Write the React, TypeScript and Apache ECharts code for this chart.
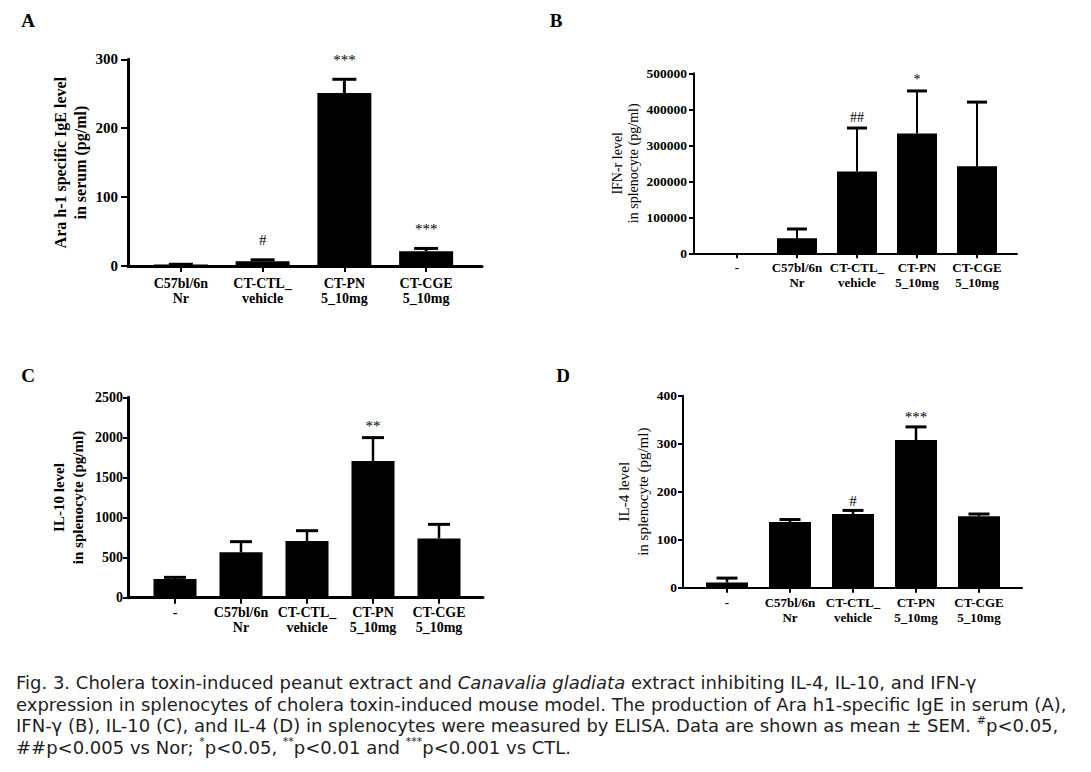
import React, { useEffect, useRef } from 'react';
import * as echarts from 'echarts';

// ---------- data ----------
const groupsA = ['C57bl/6n\nNr', 'CT-CTL_\nvehicle', 'CT-PN\n5_10mg', 'CT-CGE\n5_10mg'];
const groupsBCD = ['-', 'C57bl/6n\nNr', 'CT-CTL_\nvehicle', 'CT-PN\n5_10mg', 'CT-CGE\n5_10mg'];

// A: Ara h-1 specific IgE in serum (pg/ml)
const igeMean = [2, 7, 251, 21.5];
const igeUpper = [2.5, 9, 271, 25.5];
const igeMarks = ['', '#', '***', '***'];
const igeTicks = [0, 100, 200, 300];

// B: IFN-r in splenocyte (pg/ml)
const ifnMean = [0, 42000, 227000, 333000, 242000];
const ifnUpper = [null, 67500, 348000, 451000, 420000];
const ifnMarks = ['', '', '##', '*', ''];
const ifnTicks = [0, 100000, 200000, 300000, 400000, 500000];

// C: IL-10 in splenocyte (pg/ml)
const il10Mean = [233, 566, 707, 1705, 740];
const il10Upper = [254, 699, 836, 1997, 915];
const il10Marks = ['', '', '', '**', ''];
const il10Ticks = [0, 500, 1000, 1500, 2000, 2500];

// D: IL-4 in splenocyte (pg/ml)
const il4Mean = [11, 137, 153.5, 307.5, 149];
const il4Upper = [20, 142, 161, 335, 153.5];
const il4Marks = ['', '', '#', '***', ''];
const il4Ticks = [0, 100, 200, 300, 400];

const captionLines = [
  'Fig. 3. Cholera toxin-induced peanut extract and {i|Canavalia gladiata} extract inhibiting IL-4, IL-10, and IFN-γ',
  'expression in splenocytes of cholera toxin-induced mouse model. The production of Ara h1-specific IgE in serum (A),',
  'IFN-γ (B), IL-10 (C), and IL-4 (D) in splenocytes were measured by ELISA. Data are shown as mean ± SEM. {s|#}p<0.05,',
  '##p<0.005 vs Nor; {s|*}p<0.05, {s|**}p<0.01 and {s|***}p<0.001 vs CTL.',
];

const SERIF = '"Liberation Serif", "Times New Roman", serif';
const SANS = '"DejaVu Sans", "Liberation Sans", sans-serif';

type PanelCfg = {
  letter: string;
  letterPos: [number, number];
  frame: [number, number, number, number];
  bars: [number, number];
  cats: string[];
  mean: number[];
  upper: (number | null)[];
  marks: string[];
  ticks: number[];
  name: string;
  nameBold: boolean;
  nameSize: number;
  nameLH: number;
  nameGap: number;
  xLabelSize: number;
  yLabelSize: number;
  xLabelLH: number;
  xMargin: number;
  yMargin: number;
  axisW: number;
  yTick: number;
  xTick: number;
  barWidth: number;
  capHalf: number;
  vW: number;
  cW: number;
  gap: number;
  markSize: number;
};

const panels: PanelCfg[] = [
  {
    letter: 'A', letterPos: [28, 20],
    frame: [128, 59.3, 354, 206.7], bars: [140, 327],
    cats: groupsA, mean: igeMean, upper: igeUpper, marks: igeMarks, ticks: igeTicks,
    name: 'Ara h-1 specific IgE level\nin serum (pg/ml)', nameBold: true, nameSize: 16, nameLH: 20, nameGap: 38,
    xLabelSize: 14, yLabelSize: 15, xLabelLH: 15, xMargin: 10, yMargin: 10, axisW: 3, yTick: 7, xTick: 6,
    barWidth: 54, capHalf: 12, vW: 3, cW: 3, gap: 12, markSize: 15,
  },
  {
    letter: 'B', letterPos: [556, 20],
    frame: [694, 73.3, 323, 180], bars: [707, 300],
    cats: groupsBCD, mean: ifnMean, upper: ifnUpper, marks: ifnMarks, ticks: ifnTicks,
    name: 'IFN-r level\nin splenocyte (pg/ml)', nameBold: false, nameSize: 14, nameLH: 16, nameGap: 53,
    xLabelSize: 13, yLabelSize: 13.5, xLabelLH: 14.5, xMargin: 7, yMargin: 7, axisW: 2, yTick: 5, xTick: 5,
    barWidth: 40, capHalf: 10, vW: 2, cW: 3, gap: 4, markSize: 14,
  },
  {
    letter: 'C', letterPos: [28, 375],
    frame: [128, 397.3, 355, 200.4], bars: [142, 330],
    cats: groupsBCD, mean: il10Mean, upper: il10Upper, marks: il10Marks, ticks: il10Ticks,
    name: 'IL-10 level\nin splenocyte (pg/ml)', nameBold: true, nameSize: 15, nameLH: 19, nameGap: 41,
    xLabelSize: 14, yLabelSize: 14, xLabelLH: 15.5, xMargin: 7, yMargin: 5, axisW: 3, yTick: 5, xTick: 6,
    barWidth: 43, capHalf: 11, vW: 2.5, cW: 3, gap: 4, markSize: 15,
  },
  {
    letter: 'D', letterPos: [563, 375],
    frame: [683, 395.7, 339, 192], bars: [695.5, 315],
    cats: groupsBCD, mean: il4Mean, upper: il4Upper, marks: il4Marks, ticks: il4Ticks,
    name: 'IL-4 level\nin splenocyte (pg/ml)', nameBold: false, nameSize: 15, nameLH: 19, nameGap: 31,
    xLabelSize: 13, yLabelSize: 13.5, xLabelLH: 15, xMargin: 7.5, yMargin: 6, axisW: 2, yTick: 5, xTick: 5,
    barWidth: 42, capHalf: 10.5, vW: 2.5, cW: 3, gap: 2, markSize: 15,
  },
];

function buildOption() {
  const grid: any[] = [];
  const xAxis: any[] = [];
  const yAxis: any[] = [];
  const series: any[] = [];
  const graphic: any[] = [];

  panels.forEach((p, k) => {
    const f = 2 * k;
    const b = 2 * k + 1;
    const min = p.ticks[0];
    const max = p.ticks[p.ticks.length - 1];
    const interval = p.ticks[1] - p.ticks[0];
    grid.push({ left: p.frame[0], top: p.frame[1], width: p.frame[2], height: p.frame[3], containLabel: false });
    grid.push({ left: p.bars[0], top: p.frame[1], width: p.bars[1], height: p.frame[3], containLabel: false });

    xAxis.push({
      gridIndex: f, type: 'category', data: [''],
      axisLine: { show: true, lineStyle: { color: '#000', width: p.axisW } },
      axisTick: { show: false }, axisLabel: { show: false }, splitLine: { show: false },
    });
    xAxis.push({
      gridIndex: b, type: 'category', data: p.cats,
      axisLine: { show: false },
      axisTick: { show: true, alignWithLabel: true, length: p.xTick, lineStyle: { color: '#000', width: 2 } },
      axisLabel: {
        show: true, interval: 0, margin: p.xMargin, color: '#000',
        fontFamily: SERIF, fontWeight: 'bold', fontSize: p.xLabelSize, lineHeight: p.xLabelLH,
      },
      splitLine: { show: false },
    });
    yAxis.push({
      gridIndex: f, type: 'value', min, max, interval,
      axisLine: { show: true, lineStyle: { color: '#000', width: p.axisW } },
      axisTick: { show: true, length: p.yTick, lineStyle: { color: '#000', width: 2 } },
      axisLabel: {
        show: true, margin: p.yMargin, color: '#000',
        fontFamily: SERIF, fontWeight: 'bold', fontSize: p.yLabelSize,
        formatter: (v: number) => String(v),
      },
      splitLine: { show: false },
      name: p.name, nameLocation: 'middle', nameGap: p.nameGap, nameRotate: 90,
      nameTextStyle: {
        color: '#000', fontFamily: SERIF, fontWeight: p.nameBold ? 'bold' : 'normal',
        fontSize: p.nameSize, lineHeight: p.nameLH, align: 'center',
      },
    });
    yAxis.push({ gridIndex: b, type: 'value', min, max, interval, show: false });

    series.push({
      type: 'bar', xAxisIndex: b, yAxisIndex: b, data: p.mean,
      barWidth: p.barWidth, itemStyle: { color: '#000' }, silent: true,
    });

    const errData = p.cats
      .map((_, i) => [i, p.mean[i], p.upper[i]])
      .filter((d) => d[2] != null);
    const marks = p.marks;
    series.push({
      type: 'custom', xAxisIndex: b, yAxisIndex: b, z: 5, silent: true,
      encode: { x: 0, y: [1, 2] },
      data: errData,
      renderItem: (params: any, api: any) => {
        const i = api.value(0);
        const base = api.coord([i, api.value(1)]);
        const top = api.coord([i, api.value(2)]);
        const children: any[] = [
          { type: 'line', shape: { x1: top[0], y1: base[1], x2: top[0], y2: top[1] }, style: { stroke: '#000', lineWidth: p.vW } },
          { type: 'line', shape: { x1: top[0] - p.capHalf, y1: top[1], x2: top[0] + p.capHalf, y2: top[1] }, style: { stroke: '#000', lineWidth: p.cW } },
        ];
        const m = marks[i];
        if (m) {
          children.push({
            type: 'text', x: top[0], y: top[1] - p.gap,
            style: { text: m, align: 'center', verticalAlign: 'bottom', fontFamily: SERIF, fontSize: p.markSize, fill: '#000' },
          });
        }
        return { type: 'group', children };
      },
    });

    graphic.push({
      type: 'text', x: p.letterPos[0], y: p.letterPos[1],
      style: { text: p.letter, align: 'center', verticalAlign: 'middle', fontFamily: SERIF, fontWeight: 'bold', fontSize: 19, fill: '#000' },
    });
  });

  const capSize = 18;
  const rich = {
    i: { fontFamily: SANS, fontSize: capSize, fontStyle: 'italic', fill: '#1e1e1e', lineHeight: 22 },
    s: { fontFamily: SANS, fontSize: 11, fill: '#1e1e1e', lineHeight: 12, verticalAlign: 'top' },
  };
  const capY = [682, 704, 725.5, 747];
  captionLines.forEach((t, j) => {
    graphic.push({
      type: 'text', x: 16, y: capY[j],
      style: {
        text: t, rich, fontFamily: SANS, fontSize: capSize, fill: '#1e1e1e',
        lineHeight: 22, align: 'left', verticalAlign: 'middle',
      },
    });
  });

  return { animation: false, backgroundColor: '#fff', grid, xAxis, yAxis, series, graphic };
}

export default function App() {
  const ref = useRef<HTMLDivElement>(null);
  useEffect(() => {
    if (!ref.current) return;
    const chart = echarts.init(ref.current, undefined, { renderer: 'svg' });
    chart.setOption(buildOption() as any);
    return () => chart.dispose();
  }, []);
  return (
    <div
      ref={ref}
      style={{ position: 'absolute', left: 0, top: 0, width: 1091, height: 772, background: '#fff' }}
    />
  );
}
